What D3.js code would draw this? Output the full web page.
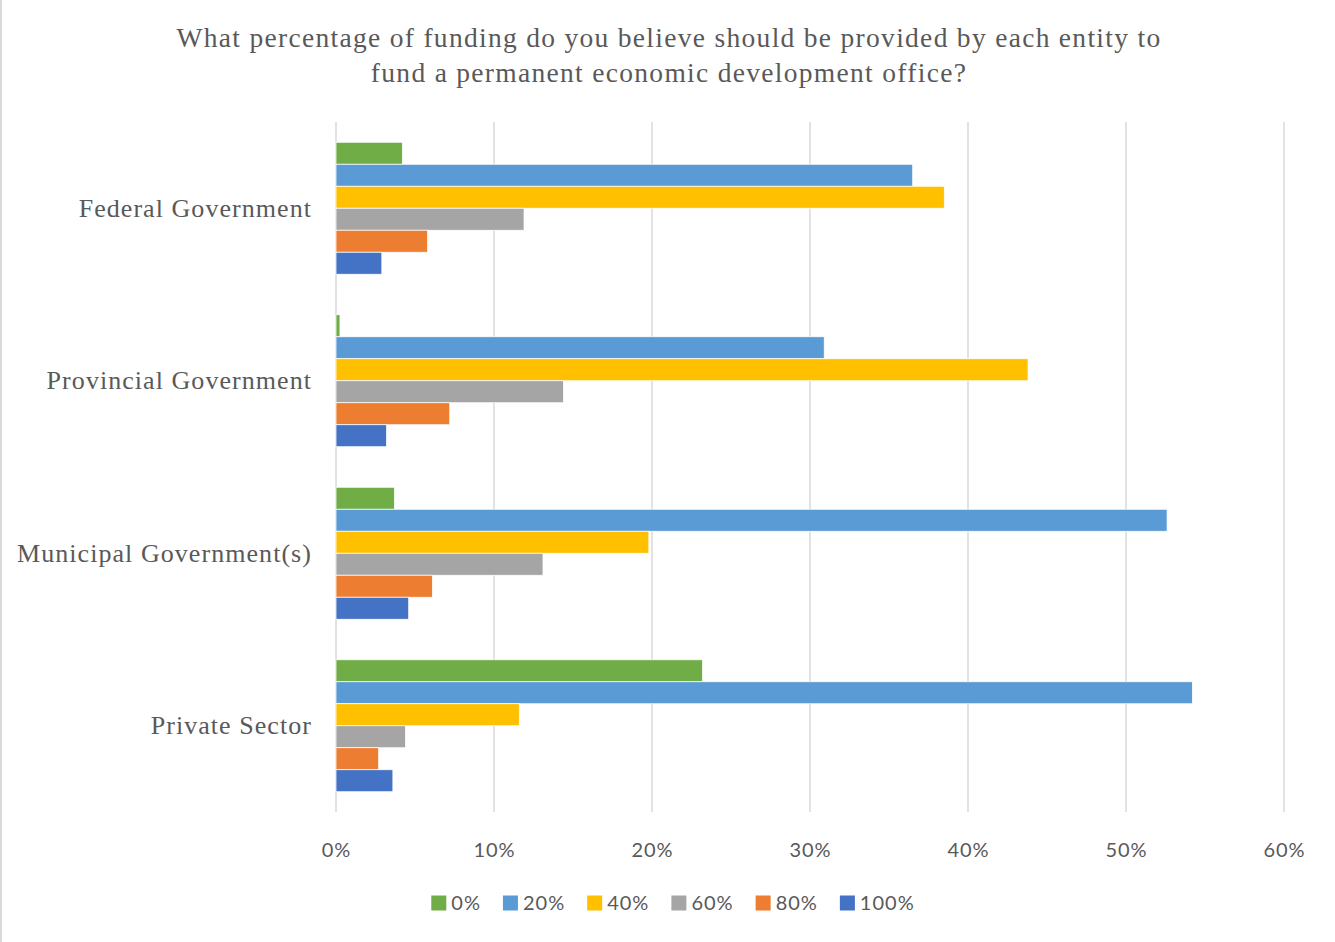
<!DOCTYPE html>
<html>
<head>
<meta charset="utf-8">
<script src="https://cdn.jsdelivr.net/npm/d3@7"></script>
<style>
  html, body { margin: 0; padding: 0; background: #fff; }
  svg { display: block; }
</style>
</head>
<body>
<svg id="chart" width="1335" height="942"></svg>
<script>
// Survey responses: share of respondents choosing each funding level, per entity
const titleLines = [
  "What percentage of funding do you believe should be provided by each entity to",
  "fund a permanent economic development office?"
];
const categories = ["Federal Government", "Provincial Government", "Municipal Government(s)", "Private Sector"];
const seriesNames = ["0%", "20%", "40%", "60%", "80%", "100%"];
const seriesColors = ["#70ad47", "#5b9bd5", "#ffc000", "#a5a5a5", "#ed7d31", "#4472c4"];
// values in percent, one array per series, ordered as categories
const s0   = [4.2, 0.25, 3.7, 23.2];
const s20  = [36.5, 30.9, 52.6, 54.2];
const s40  = [38.5, 43.8, 19.8, 11.6];
const s60  = [11.9, 14.4, 13.1, 4.4];
const s80  = [5.8, 7.2, 6.1, 2.7];
const s100 = [2.9, 3.2, 4.6, 3.6];
const seriesValues = [s0, s20, s40, s60, s80, s100];
const xTicks = [0, 10, 20, 30, 40, 50, 60];

const svg = d3.select("#chart");
const textColor = "#595959";
const serif = "'Liberation Serif', 'DejaVu Serif', serif";
const sans = "Lato, 'Open Sans', sans-serif";

// frame line on the left edge
svg.append("rect").attr("x", 0).attr("y", 0).attr("width", 2).attr("height", 942).attr("fill", "#d9d9d9");

const plot = { left: 336, right: 1284, top: 122, bottom: 812 };

const x = d3.scaleLinear().domain([0, 60]).range([plot.left, plot.right]);
const y0 = d3.scaleBand().domain(categories).range([plot.top, plot.bottom])
  .paddingInner(0.235).paddingOuter(0.1175);
const y1 = d3.scaleBand().domain(seriesNames).range([0, y0.bandwidth()]);

// title
svg.append("g").selectAll("text").data(titleLines).join("text")
  .attr("x", 669).attr("y", (d, i) => 47 + i * 35)
  .attr("text-anchor", "middle")
  .attr("font-family", serif).attr("font-size", 27.5)
  .attr("letter-spacing", 1.3)
  .attr("fill", textColor)
  .text(d => d);

// vertical gridlines
svg.append("g").selectAll("line").data(xTicks).join("line")
  .attr("x1", d => x(d)).attr("x2", d => x(d))
  .attr("y1", plot.top).attr("y2", plot.bottom)
  .attr("stroke", "#d9d9d9").attr("stroke-width", 1.5);

// x axis labels
const xAxis = d3.axisBottom(x).tickValues(xTicks).tickSize(0).tickFormat(d => d + "%");
const xg = svg.append("g").attr("transform", `translate(0,${plot.bottom})`).call(xAxis);
xg.select(".domain").remove();
xg.selectAll("text")
  .attr("y", 45).attr("dy", 0)
  .attr("font-family", sans).attr("font-size", 20)
  .attr("letter-spacing", 1)
  .attr("fill", textColor);

// category labels
const yAxis = d3.axisLeft(y0).tickSize(0).tickPadding(24);
const yg = svg.append("g").attr("transform", `translate(${plot.left},0)`).call(yAxis);
yg.select(".domain").remove();
yg.selectAll("text")
  .attr("font-family", serif).attr("font-size", 26)
  .attr("letter-spacing", 1.05)
  .attr("fill", textColor);

// bars
const rows = categories.map((c, ci) => ({
  cat: c,
  vals: seriesNames.map((s, si) => ({ s, si, v: seriesValues[si][ci] }))
}));
svg.append("g").selectAll("g").data(rows).join("g")
  .attr("transform", d => `translate(0,${y0(d.cat)})`)
  .selectAll("rect").data(d => d.vals).join("rect")
  .attr("x", x(0))
  .attr("y", d => y1(d.s))
  .attr("width", d => x(d.v) - x(0))
  .attr("height", y1.bandwidth())
  .attr("fill", d => seriesColors[d.si])
  .attr("stroke", "#ffffff").attr("stroke-width", 0.75);

// legend
const legend = svg.append("g");
const items = legend.selectAll("g").data(seriesNames).join("g");
items.append("rect").attr("width", 15).attr("height", 15).attr("y", -7.5)
  .attr("fill", (d, i) => seriesColors[i]);
items.append("text").attr("x", 20).attr("y", 7)
  .attr("font-family", sans).attr("font-size", 20).attr("fill", textColor)
  .attr("letter-spacing", 1)
  .text(d => d);
let cursor = 0;
items.each(function () {
  const g = d3.select(this);
  g.attr("transform", `translate(${cursor},0)`);
  const w = g.select("text").node().getComputedTextLength();
  cursor += 20 + w + 22;
});
const total = cursor - 22;
legend.attr("transform", `translate(${673 - total / 2},903)`);
</script>
</body>
</html>
